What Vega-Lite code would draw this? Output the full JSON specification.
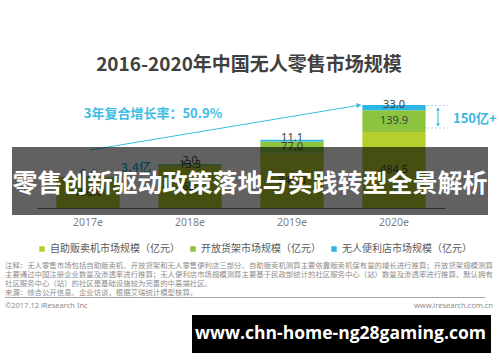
{
  "$schema": "https://vega.github.io/schema/vega-lite/v6.json",
  "width": 408,
  "height": 110,
  "autosize": {"type": "none"},
  "padding": {"left": 37, "top": 98, "right": 55, "bottom": 154},
  "background": "white",
  "title": {
    "text": "2016-2020年中国无人零售市场规模",
    "fontSize": 19,
    "fontWeight": "bold",
    "font": "Noto Sans CJK SC",
    "color": "#404040",
    "anchor": "middle",
    "frame": "group",
    "baseline": "alphabetic",
    "offset": 8,
    "dx": 8
  },
  "config": {"view": {"stroke": null}},
  "datasets": {
    "market": [
      {"year": "2017e", "cat": "自助贩卖机市场规模（亿元）", "ord": 1, "value": 196.0},
      {"year": "2017e", "cat": "开放货架市场规模（亿元）", "ord": 2, "value": 3.4},
      {"year": "2017e", "cat": "无人便利店市场规模（亿元）", "ord": 3, "value": 0.4},
      {"year": "2018e", "cat": "自助贩卖机市场规模（亿元）", "ord": 1, "value": 265.5},
      {"year": "2018e", "cat": "开放货架市场规模（亿元）", "ord": 2, "value": 13.3},
      {"year": "2018e", "cat": "无人便利店市场规模（亿元）", "ord": 3, "value": 2.0},
      {"year": "2019e", "cat": "自助贩卖机市场规模（亿元）", "ord": 1, "value": 348.0},
      {"year": "2019e", "cat": "开放货架市场规模（亿元）", "ord": 2, "value": 77.0},
      {"year": "2019e", "cat": "无人便利店市场规模（亿元）", "ord": 3, "value": 11.1},
      {"year": "2020e", "cat": "自助贩卖机市场规模（亿元）", "ord": 1, "value": 484.5},
      {"year": "2020e", "cat": "开放货架市场规模（亿元）", "ord": 2, "value": 139.9},
      {"year": "2020e", "cat": "无人便利店市场规模（亿元）", "ord": 3, "value": 33.0}
    ]
  },
  "layer": [
    {
      "data": {"name": "market"},
      "mark": {"type": "bar"},
      "encoding": {
        "x": {
          "field": "year",
          "type": "nominal",
          "scale": {"paddingInner": 0.38, "paddingOuter": 0.19},
          "axis": {
            "title": null,
            "ticks": false,
            "labelAngle": 0,
            "labelFont": "Noto Sans",
            "labelFontSize": 10.5,
            "labelColor": "#7f7f7f",
            "labelPadding": 9,
            "domainColor": "#7f7f7f"
          }
        },
        "y": {
          "field": "value",
          "type": "quantitative",
          "stack": "zero",
          "scale": {"domain": [0, 702]},
          "axis": null
        },
        "color": {
          "field": "cat",
          "type": "nominal",
          "scale": {
            "domain": ["自助贩卖机市场规模（亿元）", "开放货架市场规模（亿元）", "无人便利店市场规模（亿元）"],
            "range": ["#b7cf2d", "#8cc43f", "#2cb6e6"]
          },
          "legend": {
            "orient": "none",
            "legendX": 0,
            "legendY": 146,
            "direction": "horizontal",
            "title": null,
            "symbolType": "square",
            "symbolSize": 30,
            "symbolStrokeWidth": 0,
            "labelFontSize": 10,
            "labelFont": "Noto Sans CJK SC",
            "labelColor": "#595959",
            "columnPadding": 8,
            "labelOffset": 3
          }
        },
        "order": {"field": "ord", "type": "quantitative", "sort": "ascending"}
      }
    },
    {
      "data": {"name": "market"},
      "transform": [
        {"stack": "value", "groupby": ["year"], "sort": [{"field": "ord", "order": "ascending"}], "as": ["v0", "v1"]},
        {"fold": ["v0", "v1"], "as": ["edge", "pos"]},
        {"aggregate": [{"op": "mean", "field": "pos", "as": "mid"}], "groupby": ["year", "cat", "ord", "value"]},
        {"filter": "!(datum.year === '2017e' && datum.ord === 2)"}
      ],
      "encoding": {
        "x": {"field": "year", "type": "nominal"},
        "y": {"field": "mid", "type": "quantitative", "scale": {"domain": [0, 702]}},
        "text": {"field": "value", "type": "quantitative", "format": ".1f"}
      },
      "layer": [
        {
          "transform": [{"filter": "datum.ord !== 3"}],
          "mark": {"type": "text", "fontSize": 11, "font": "Noto Sans", "color": "#404040", "baseline": "middle"}
        },
        {
          "transform": [{"filter": "datum.ord === 3"}],
          "mark": {"type": "text", "fontSize": 11, "font": "Noto Sans", "color": "#404040", "baseline": "middle", "dy": -3}
        }
      ]
    },
    {
      "data": {"values": [{}]},
      "mark": {"type": "rule", "color": "#3cbde6", "strokeWidth": 1},
      "encoding": {"x": {"value": 53}, "y": {"value": 52}, "x2": {"value": 320}, "y2": {"value": 7.6}}
    },
    {
      "data": {"values": [{}]},
      "mark": {"type": "point", "shape": "triangle-right", "filled": true, "size": 30, "angle": -9.4, "color": "#3cbde6", "opacity": 1},
      "encoding": {"x": {"value": 322}, "y": {"value": 7.2}}
    },
    {
      "data": {"values": [{}]},
      "mark": {"type": "rule", "color": "#9fd6ea", "strokeWidth": 1, "strokeDash": [2, 2]},
      "encoding": {"x": {"value": 390}, "x2": {"value": 411}, "y": {"value": 7.5}}
    },
    {
      "data": {"values": [{}]},
      "mark": {"type": "rule", "color": "#9fd6ea", "strokeWidth": 1, "strokeDash": [2, 2]},
      "encoding": {"x": {"value": 390}, "x2": {"value": 411}, "y": {"value": 30}}
    },
    {
      "data": {"values": [{}]},
      "mark": {"type": "rule", "color": "#2cb6e6", "strokeWidth": 1},
      "encoding": {"x": {"value": 401}, "y": {"value": 11}, "y2": {"value": 27}}
    },
    {
      "data": {"values": [{}]},
      "mark": {"type": "point", "shape": "triangle-up", "filled": true, "size": 14, "color": "#2cb6e6", "opacity": 1},
      "encoding": {"x": {"value": 401}, "y": {"value": 11}}
    },
    {
      "data": {"values": [{}]},
      "mark": {"type": "point", "shape": "triangle-down", "filled": true, "size": 14, "color": "#2cb6e6", "opacity": 1},
      "encoding": {"x": {"value": 401}, "y": {"value": 27}}
    },
    {
      "data": {"values": [{}]},
      "mark": {"type": "text", "text": "150亿+", "font": "Noto Sans CJK SC", "fontSize": 13, "fontWeight": "bold", "color": "#38b8e0", "align": "left", "baseline": "middle"},
      "encoding": {"x": {"value": 416}, "y": {"value": 21}}
    },
    {
      "data": {"values": [{}]},
      "mark": {"type": "text", "text": "3年复合增长率：50.9%", "font": "Noto Sans CJK SC", "fontSize": 13, "fontWeight": "bold", "color": "#3cbde6", "align": "center", "baseline": "middle"},
      "encoding": {"x": {"value": 116}, "y": {"value": 16}}
    },
    {
      "data": {"values": [{}]},
      "mark": {"type": "text", "text": "3.4亿", "font": "Noto Sans CJK SC", "fontSize": 12, "fontWeight": "bold", "color": "#38b8e0", "align": "center", "baseline": "middle"},
      "encoding": {"x": {"value": 99}, "y": {"value": 70}}
    },
    {
      "data": {"values": [{}]},
      "mark": {"type": "rect", "color": "#000000", "opacity": 0.62},
      "encoding": {"x": {"value": -25}, "x2": {"value": 451}, "y": {"value": 49}, "y2": {"value": 117}}
    },
    {
      "data": {"values": [{}]},
      "mark": {"type": "text", "text": "零售创新驱动政策落地与实践转型全景解析", "font": "Noto Sans CJK SC", "fontSize": 25, "fontWeight": "bold", "color": "#ffffff", "align": "center", "baseline": "middle"},
      "encoding": {"x": {"value": 213}, "y": {"value": 85.5}}
    },
    {
      "data": {"values": [{}]},
      "mark": {
        "type": "text",
        "text": [
          "注释：无人零售市场包括自助贩卖机、开放货架和无人零售便利店三部分。自助贩卖机测算主要依靠贩卖机保有量的增长进行推算；开放货架规模测算",
          "主要通过中国注册企业数量及渗透率进行推算；无人便利店市场规模测算主要基于民政部统计的社区服务中心（站）数量及渗透率进行推算，默认拥有",
          "社区服务中心（站）的社区是基础设施较为完善的中高端社区。",
          "来源：综合公开信息、企业访谈，根据艾瑞统计模型核算。"
        ],
        "font": "Noto Sans CJK SC",
        "fontSize": 7.4,
        "lineHeight": 9,
        "color": "#8c8c8c",
        "align": "left",
        "baseline": "top"
      },
      "encoding": {"x": {"value": -32}, "y": {"value": 163.5}}
    },
    {
      "data": {"values": [{}]},
      "mark": {"type": "rule", "color": "#a6a6a6", "strokeWidth": 1},
      "encoding": {"x": {"value": -32}, "x2": {"value": 448}, "y": {"value": 199.5}}
    },
    {
      "data": {"values": [{}]},
      "mark": {"type": "text", "text": "©2017.12 iResearch Inc", "font": "Noto Sans", "fontSize": 7.5, "color": "#8c8c8c", "align": "left", "baseline": "middle"},
      "encoding": {"x": {"value": -32}, "y": {"value": 208}}
    },
    {
      "data": {"values": [{}]},
      "mark": {"type": "text", "text": "www.iresearch.com.cn", "font": "Noto Sans", "fontSize": 7.5, "color": "#8c8c8c", "align": "right", "baseline": "middle"},
      "encoding": {"x": {"value": 456}, "y": {"value": 208}}
    },
    {
      "data": {"values": [{}]},
      "mark": {"type": "rect", "color": "#000000", "opacity": 1},
      "encoding": {"x": {"value": 155}, "x2": {"value": 454}, "y": {"value": 217}, "y2": {"value": 255}}
    },
    {
      "data": {"values": [{}]},
      "mark": {"type": "text", "text": "www.chn-home-ng28gaming.com", "font": "Open Sans", "fontSize": 17.5, "fontWeight": "bold", "color": "#ffffff", "align": "center", "baseline": "middle"},
      "encoding": {"x": {"value": 303.5}, "y": {"value": 236}}
    }
  ]
}
